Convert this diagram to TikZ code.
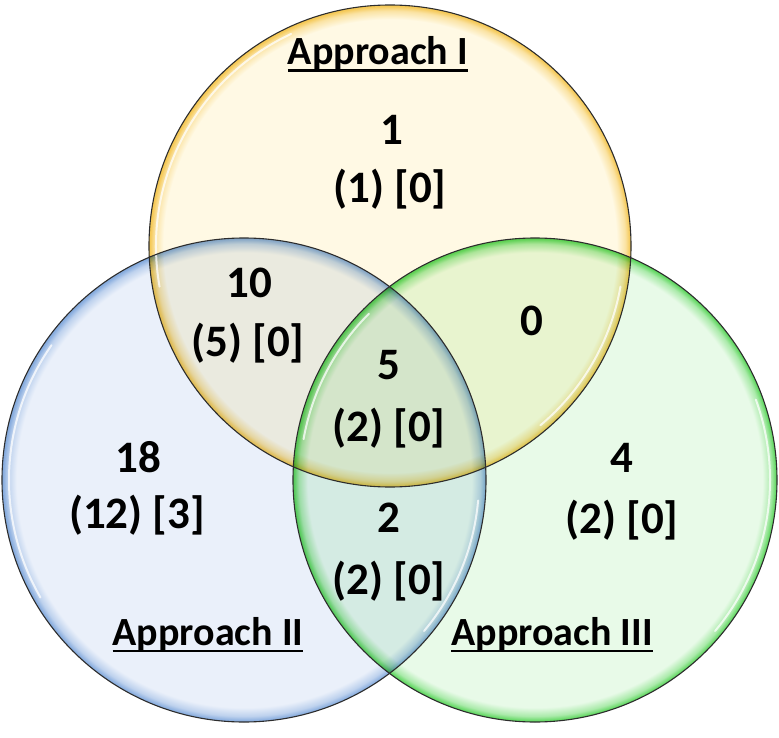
\documentclass[tikz,border=0pt]{standalone}
\usepackage{fontspec}
\setmainfont{Carlito}
\definecolor{ybase}{RGB}{255,249,228}
\definecolor{yglow}{RGB}{245,200,85}
\definecolor{bbase}{RGB}{234,240,250}
\definecolor{bglow}{RGB}{135,172,222}
\definecolor{gbase}{RGB}{232,250,232}
\definecolor{gglow}{RGB}{95,215,95}
\definecolor{rimcol}{RGB}{45,45,45}
\pgfdeclareradialshading{yshade}{\pgfpoint{0bp}{0bp}}{color(0bp)=(ybase); color(23.5bp)=(ybase); color(24.4bp)=(yglow!45!ybase); color(24.9bp)=(yglow); color(25bp)=(yglow); color(50bp)=(yglow)}
\pgfdeclareradialshading{bshade}{\pgfpoint{0bp}{0bp}}{color(0bp)=(bbase); color(23.5bp)=(bbase); color(24.4bp)=(bglow!45!bbase); color(24.9bp)=(bglow); color(25bp)=(bglow); color(50bp)=(bglow)}
\pgfdeclareradialshading{gshade}{\pgfpoint{0bp}{0bp}}{color(0bp)=(gbase); color(23.5bp)=(gbase); color(24.4bp)=(gglow!45!gbase); color(24.9bp)=(gglow); color(25bp)=(gglow); color(50bp)=(gglow)}
\newsavebox\ulsavebox
\newcommand\ulbox[1]{\sbox\ulsavebox{#1}\rlap{\rule[-7pt]{\wd\ulsavebox}{2.5pt}}\usebox\ulsavebox}
\begin{document}
\begin{tikzpicture}[x=1pt,y=-1pt,
  num/.style={font=\bfseries\fontsize{45}{54}\selectfont, anchor=base, inner sep=0pt},
  lab/.style={font=\bfseries\fontsize{40}{48}\selectfont, anchor=base, inner sep=0pt},
  rim/.style={draw=rimcol, line width=1.1pt},
  shine/.style={draw=white, line width=2pt, opacity=0.75, line cap=round}]
\useasboundingbox (0,0) rectangle (779,738);
\coordinate (Y) at (390,246);
\coordinate (B) at (244,480);
\coordinate (G) at (535,480);
\begin{scope}[blend group=multiply]
  \shade[shading=yshade] (Y) circle (241);
  \shade[shading=bshade] (B) circle (242);
  \shade[shading=gshade] (G) circle (242);
\end{scope}
% highlights
\draw[shine] ([shift={(170:234)}]Y) arc[start angle=170,end angle=245,radius=234];
\draw[shine] ([shift={(10:234)}]Y) arc[start angle=10,end angle=50,radius=234];
\draw[shine] ([shift={(150:235)}]B) arc[start angle=150,end angle=215,radius=235];
\draw[shine] ([shift={(5:235)}]B) arc[start angle=5,end angle=40,radius=235];
\draw[shine] ([shift={(-20:235)}]G) arc[start angle=-20,end angle=40,radius=235];
\draw[shine] ([shift={(190:235)}]G) arc[start angle=190,end angle=225,radius=235];
% rims
\draw[rim] (Y) circle (241);
\draw[rim] (B) circle (242);
\draw[rim] (G) circle (242);
% labels
\node[lab] (labI) at (378,65) {\ulbox{Approach I}};
\node[lab] (labII) at (208,645) {\ulbox{Approach II}};
\node[lab] (labIII) at (552,645) {\ulbox{Approach III}};
% counts
\node[num] (a1) at (392,145) {1};
\node[num] (a2) at (390,203) {(1) [0]};
\node[num] (ab1) at (249,297) {10};
\node[num] (ab2) at (248,356) {(5) [0]};
\node[num] (ac1) at (532,335) {0};
\node[num] (abc1) at (389,379) {5};
\node[num] (abc2) at (389,441) {(2) [0]};
\node[num] (b1) at (138,472) {18};
\node[num] (b2) at (137,528) {(12) [3]};
\node[num] (bc1) at (389,532) {2};
\node[num] (bc2) at (389,594) {(2) [0]};
\node[num] (c1) at (622,472) {4};
\node[num] (c2) at (622,533) {(2) [0]};
\end{tikzpicture}
\end{document}
